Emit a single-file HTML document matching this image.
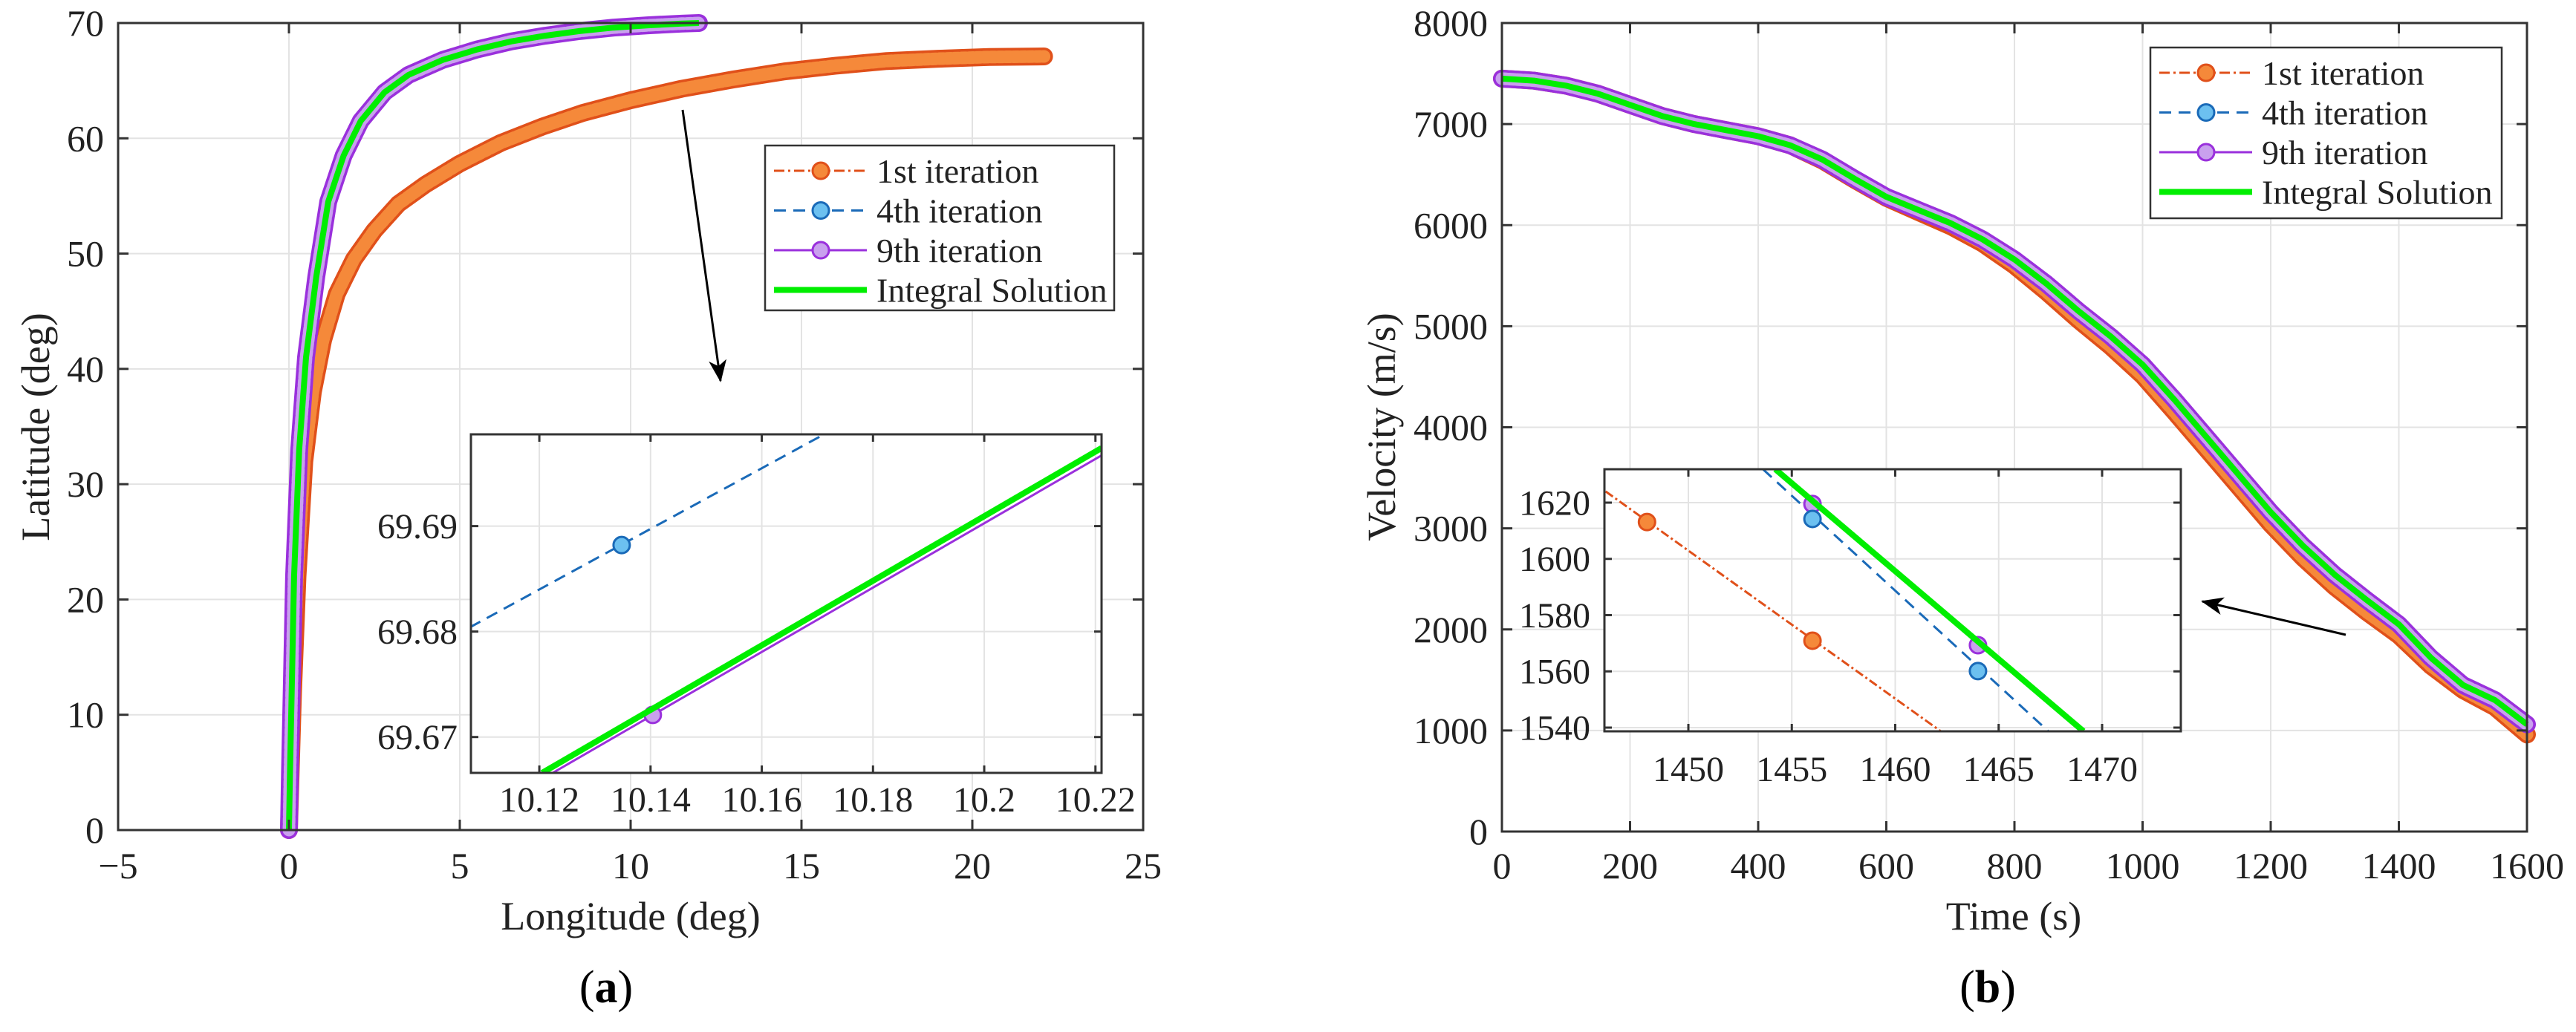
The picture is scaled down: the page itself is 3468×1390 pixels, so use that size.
<!DOCTYPE html>
<html><head><meta charset="utf-8"><style>
html,body{margin:0;padding:0;background:#fff;}
svg, svg text{font-family:"Liberation Serif","DejaVu Serif",serif;}
</style></head>
<body>
<svg id="fig" width="3468" height="1385" viewBox="0 0 3468 1385" font-family="Liberation Serif, serif" xmlns="http://www.w3.org/2000/svg"></svg>
<script>
// ---------- Panel (a) data ----------
const latLonIntegral = [0,0.03,0.08,0.15,0.3,0.5,0.8,1.15,1.6,2.1,2.8,3.5,4.5,5.5,6.5,7.5,8.5,9.5,10.5,11.5,12];
const latIntegral    = [0,5,12,22,33,41,48,54.5,58.5,61.5,64,65.5,66.8,67.7,68.4,68.9,69.3,69.6,69.8,69.95,70];
const lonFirst = [0,0.05,0.12,0.25,0.45,0.7,1.0,1.4,1.9,2.5,3.2,4.0,5.0,6.2,7.4,8.6,10,11.5,13,14.5,16,17.5,19,20.5,22.1];
const latFirst = [0,5,12,22,32,38,42.5,46.5,49.5,52,54.3,56,57.8,59.6,61,62.2,63.3,64.3,65.1,65.8,66.3,66.7,66.9,67.05,67.1];
// inset (a)
const insA_lon4 = [10.1075,10.1705];
const insA_lat4 = [69.6804,69.6985];
const insA_mk4Lon = [10.1348];
const insA_mk4Lat = [69.6882];
const insA_lonG = [10.1205,10.2211];
const insA_latG = [69.6666,69.6974];
const insA_lon9 = [10.1224,10.2211];
const insA_lat9 = [69.6666,69.6967];
const insA_mk9Lon = [10.1404];
const insA_mk9Lat = [69.6721];
const aXTicks = [-5,0,5,10,15,20,25];
const aYTicks = [0,10,20,30,40,50,60,70];
const aInsXTicks = [10.12,10.14,10.16,10.18,10.2,10.22];
const aInsXLabels = ["10.12","10.14","10.16","10.18","10.2","10.22"];
const aInsYTicks = [69.67,69.68,69.69];

// ---------- Panel (b) data ----------
const timeB = [0,50,100,150,200,250,300,350,400,450,500,550,600,650,700,750,800,850,900,950,1000,1050,1100,1150,1200,1250,1300,1350,1400,1450,1500,1550,1600];
const velIntegral = [7450,7430,7380,7300,7190,7080,7000,6940,6880,6790,6650,6460,6280,6150,6020,5860,5660,5420,5150,4900,4620,4270,3900,3530,3160,2830,2540,2290,2050,1720,1450,1300,1060];
const velFirst    = [7450,7430,7380,7300,7190,7080,7000,6940,6880,6790,6640,6450,6270,6130,5990,5820,5600,5340,5060,4800,4510,4150,3780,3410,3040,2710,2420,2170,1940,1640,1400,1230,960];
const bXTicks = [0,200,400,600,800,1000,1200,1400,1600];
const bYTicks = [0,1000,2000,3000,4000,5000,6000,7000,8000];
const insB_t1 = [1446.0,1462.2];
const insB_v1 = [1624.0,1538.7];
const insB_mk1T = [1448.0,1456.0];
const insB_mk1V = [1613.1,1570.9];
const insB_t4 = [1453.6,1467.4];
const insB_v4 = [1631.9,1538.7];
const insB_mk4T = [1456.0,1464.0];
const insB_mk4V = [1614.2,1560.1];
const insB_mk9T = [1456.0,1464.0];
const insB_mk9V = [1619.5,1569.3];
const insB_tG = [1454.2,1469.1];
const insB_vG = [1631.9,1538.7];
const bInsXTicks = [1450,1455,1460,1465,1470];
const bInsYTicks = [1540,1560,1580,1600,1620];

const NS="http://www.w3.org/2000/svg";
const svg=document.getElementById('fig');
function el(tag,attrs,parent,text){const e=document.createElementNS(NS,tag);for(const k in attrs)e.setAttribute(k,attrs[k]);if(text!==undefined)e.textContent=text;(parent||svg).appendChild(e);return e;}
function lin(d0,d1,p0,p1){return v=>p0+(v-d0)*(p1-p0)/(d1-d0);}
function pathD(xs,ys,sx,sy){return xs.map((x,i)=>(i?'L':'M')+sx(x).toFixed(1)+','+sy(ys[i]).toFixed(1)).join('');}

const ORF='#f5893a',ORE='#e0501a',BLF='#6cc0f0',BLE='#1a6ab8',PUF='#c9a0ee',PUE='#9a30dc',GR='#00ee00';
const defs=el('defs',{});
const cpA=el('clipPath',{id:'clipA'},defs);el('rect',{x:634,y:585,width:849,height:456},cpA);
const cpB=el('clipPath',{id:'clipB'},defs);el('rect',{x:2160,y:632,width:776,height:353},cpB);
const arr=el('marker',{id:'arrowhead',markerWidth:30,markerHeight:30,refX:28,refY:15,orient:'auto',markerUnits:'userSpaceOnUse',viewBox:'0 0 30 30'},defs);
el('path',{d:'M0,3 L30,15 L0,27 L8,15 Z',fill:'#000'},arr);

function axesGrid(g,L,T,R,B,xt,yt,sx,sy){
  xt.forEach(v=>{const t=el('line',{x1:sx(v),x2:sx(v),y1:T,y2:B,stroke:'#e3e3e3','stroke-width':2},g);
  });
  yt.forEach(v=>{const t=el('line',{x1:L,x2:R,y1:sy(v),y2:sy(v),stroke:'#e3e3e3','stroke-width':2},g);
  });
}
function axesBorder(g,L,T,R,B,xt,yt,sx,sy,xlab,ylab,xLabY,yLabX,fs,tickLen){
  const r=el('rect',{x:L,y:T,width:R-L,height:B-T,fill:'none',stroke:'#333','stroke-width':3},g);
  
  xt.forEach((v,i)=>{
    el('line',{x1:sx(v),x2:sx(v),y1:B,y2:B-tickLen,stroke:'#333','stroke-width':3},g);
    el('line',{x1:sx(v),x2:sx(v),y1:T,y2:T+tickLen,stroke:'#333','stroke-width':3},g);
    const t=el('text',{x:sx(v),y:xLabY,'font-size':fs,'text-anchor':'middle',fill:'#222','font-family':'Liberation Serif, serif'},g,xlab[i]);
    
  });
  yt.forEach((v,i)=>{
    el('line',{x1:L,x2:L+tickLen,y1:sy(v),y2:sy(v),stroke:'#333','stroke-width':3},g);
    el('line',{x1:R,x2:R-tickLen,y1:sy(v),y2:sy(v),stroke:'#333','stroke-width':3},g);
    const t=el('text',{x:yLabX,y:sy(v)+fs*0.34,'font-size':fs,'text-anchor':'end',fill:'#222','font-family':'Liberation Serif, serif'},g,ylab[i]);
    
  });
}
function thickMarkerLine(g,d,fill,edge,name){
  const a=el('path',{d:d,fill:'none',stroke:edge,'stroke-width':24,'stroke-linejoin':'round','stroke-linecap':'round'},g);
  
  const b=el('path',{d:d,fill:'none',stroke:fill,'stroke-width':17,'stroke-linejoin':'round','stroke-linecap':'round','stroke-dasharray':'6 4'},g);
  
}
function circle(g,x,y,fill,edge,name,r){const c=el('circle',{cx:x,cy:y,r:r||11,fill:fill,stroke:edge,'stroke-width':3},g);
  }
function legend(g,x,y,w,h,rows){
  const r=el('rect',{x:x,y:y,width:w,height:h,fill:'#fff',stroke:'#333','stroke-width':2.5},g);
  
  rows.forEach((row,i)=>{
    const cy=y+34+i*53.5;
    const e=el('g',{},g);
    
    el('line',{x1:x+12,x2:x+137,y1:cy,y2:cy,stroke:row.c,'stroke-width':row.w,'stroke-dasharray':row.dash||''},e);
    if(row.mf) el('circle',{cx:x+75,cy:cy,r:11,fill:row.mf,stroke:row.me,'stroke-width':3},e);
    el('text',{x:x+150,y:cy+16,'font-size':46,fill:'#222','font-family':'Liberation Serif, serif'},e,row.t);
  });
}
const legRows=[
 {c:ORE,w:3,dash:'14 5 3 5',mf:ORF,me:ORE,t:'1st iteration'},
 {c:BLE,w:3,dash:'16 10',mf:BLF,me:BLE,t:'4th iteration'},
 {c:PUE,w:3,mf:PUF,me:PUE,t:'9th iteration'},
 {c:GR,w:8,t:'Integral Solution'}];

// ================= Panel A =================
const gA=el('g',{});
const aL=159,aR=1539,aT=31,aB=1118;
const sxA=lin(-5,25,aL,aR), syA=lin(0,70,aB,aT);
axesGrid(gA,aL,aT,aR,aB,aXTicks,aYTicks,sxA,syA);
thickMarkerLine(gA,pathD(lonFirst,latFirst,sxA,syA),ORF,ORE,'first-iteration-series-a');
thickMarkerLine(gA,pathD(latLonIntegral,latIntegral,sxA,syA),PUF,PUE,'ninth-iteration-series-a');
const gIa=el('path',{d:pathD(latLonIntegral,latIntegral,sxA,syA),fill:'none',stroke:GR,'stroke-width':8,'stroke-linejoin':'round'},gA);

axesBorder(gA,aL,aT,aR,aB,aXTicks,aYTicks,sxA,syA,aXTicks.map(v=>v<0?'\u2212'+(-v):String(v)),aYTicks.map(String),1183,140,50,14);
let t=el('text',{x:849,y:1252,'font-size':54,'text-anchor':'middle',fill:'#222'},gA,'Longitude (deg)');

t=el('text',{x:0,y:0,'font-size':54,'text-anchor':'middle',fill:'#222',transform:'translate(66,575) rotate(-90)'},gA,'Latitude (deg)');

t=el('text',{x:816,y:1350,'font-size':62,'text-anchor':'middle',fill:'#000'},gA);
el('tspan',{},t,'(');el('tspan',{'font-weight':'bold'},t,'a');el('tspan',{},t,')');

legend(gA,1030,196,470,222,legRows);
let ar=el('line',{x1:919,y1:148,x2:970,y2:513,stroke:'#000','stroke-width':3,'marker-end':'url(#arrowhead)'},gA);

// inset A
const iA=el('g',{});
el('rect',{x:634,y:585,width:849,height:456,fill:'#fff'},iA);
const sxIA=lin(10.1077,10.2211,634,1483), syIA=lin(69.6666,69.6987,1041,585);
axesGrid(iA,634,585,1483,1041,aInsXTicks,aInsYTicks,sxIA,syIA);
const cA=el('g',{'clip-path':'url(#clipA)'},iA);
let p=el('path',{d:pathD(insA_lon4,insA_lat4,sxIA,syIA),fill:'none',stroke:BLE,'stroke-width':3,'stroke-dasharray':'16 10'},cA);

p=el('path',{d:pathD(insA_lon9,insA_lat9,sxIA,syIA),fill:'none',stroke:PUE,'stroke-width':3},cA);

insA_mk9Lon.forEach((v,i)=>circle(cA,sxIA(v),syIA(insA_mk9Lat[i]),PUF,PUE,'ninth-iteration-marker'));
p=el('path',{d:pathD(insA_lonG,insA_latG,sxIA,syIA),fill:'none',stroke:GR,'stroke-width':8},cA);

insA_mk4Lon.forEach((v,i)=>circle(cA,sxIA(v),syIA(insA_mk4Lat[i]),BLF,BLE,'fourth-iteration-marker'));
axesBorder(iA,634,585,1483,1041,aInsXTicks,aInsYTicks,sxIA,syIA,aInsXLabels,aInsYTicks.map(v=>v.toFixed(2)),1093,616,48,10);

// ================= Panel B =================
const gB=el('g',{});
const bL=2022,bR=3402,bT=31,bB=1120;
const sxB=lin(0,1600,bL,bR), syB=lin(0,8000,bB,bT);
axesGrid(gB,bL,bT,bR,bB,bXTicks,bYTicks,sxB,syB);
thickMarkerLine(gB,pathD(timeB,velFirst,sxB,syB),ORF,ORE,'first-iteration-series-b');
thickMarkerLine(gB,pathD(timeB,velIntegral,sxB,syB),PUF,PUE,'ninth-iteration-series-b');
p=el('path',{d:pathD(timeB,velIntegral,sxB,syB),fill:'none',stroke:GR,'stroke-width':8,'stroke-linejoin':'round'},gB);

axesBorder(gB,bL,bT,bR,bB,bXTicks,bYTicks,sxB,syB,bXTicks.map(String),bYTicks.map(String),1183,2003,50,14);
t=el('text',{x:2711,y:1252,'font-size':54,'text-anchor':'middle',fill:'#222'},gB,'Time (s)');

t=el('text',{x:0,y:0,'font-size':54,'text-anchor':'middle',fill:'#222',transform:'translate(1878,575) rotate(-90)'},gB,'Velocity (m/s)');

t=el('text',{x:2676,y:1350,'font-size':62,'text-anchor':'middle',fill:'#000'},gB);
el('tspan',{},t,'(');el('tspan',{'font-weight':'bold'},t,'b');el('tspan',{},t,')');

legend(gB,2895,64,473,230,legRows);
ar=el('line',{x1:3158,y1:855,x2:2965,y2:810,stroke:'#000','stroke-width':3,'marker-end':'url(#arrowhead)'},gB);

// inset B
const iB=el('g',{});
el('rect',{x:2160,y:632,width:776,height:353,fill:'#fff'},iB);
const sxIB=lin(1450,1470,2273,2830), syIB=lin(1540,1620,980,677);
axesGrid(iB,2160,632,2936,985,bInsXTicks,bInsYTicks,sxIB,syIB);
const cB=el('g',{'clip-path':'url(#clipB)'},iB);
p=el('path',{d:pathD(insB_t1,insB_v1,sxIB,syIB),fill:'none',stroke:ORE,'stroke-width':3,'stroke-dasharray':'12 4 3 4'},cB);

insB_mk1T.forEach((v,i)=>circle(cB,sxIB(v),syIB(insB_mk1V[i]),ORF,ORE,'first-iteration-marker'));
p=el('path',{d:pathD(insB_t4,insB_v4,sxIB,syIB),fill:'none',stroke:BLE,'stroke-width':3,'stroke-dasharray':'16 10'},cB);

insB_mk9T.forEach((v,i)=>circle(cB,sxIB(v),syIB(insB_mk9V[i]),PUF,PUE,'ninth-iteration-marker'));
insB_mk4T.forEach((v,i)=>circle(cB,sxIB(v),syIB(insB_mk4V[i]),BLF,BLE,'fourth-iteration-marker'));
p=el('path',{d:pathD(insB_tG,insB_vG,sxIB,syIB),fill:'none',stroke:GR,'stroke-width':8},cB);

axesBorder(iB,2160,632,2936,985,bInsXTicks,bInsYTicks,sxIB,syIB,bInsXTicks.map(String),bInsYTicks.map(String),1052,2141,48,10);
</script>
</body></html>
